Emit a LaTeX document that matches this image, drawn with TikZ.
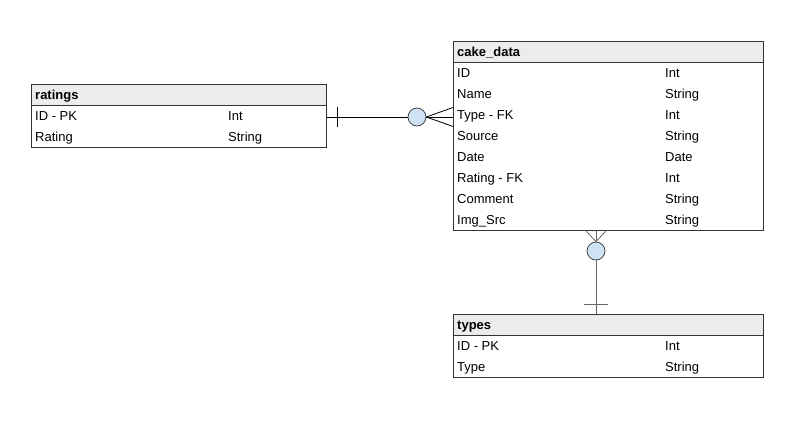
\documentclass[tikz,border=0pt]{standalone}
\usepackage{fontspec}
\setmainfont{Liberation Sans}
\definecolor{hdr}{HTML}{ECECEC}
\definecolor{bub}{HTML}{CFE2F3}
\definecolor{bord}{HTML}{333333}
\definecolor{lgray}{HTML}{666666}
\begin{document}
\begin{tikzpicture}[x=1pt,y=-1pt,
  font=\fontsize{13}{15}\selectfont,
  hdrbox/.style={draw=bord,fill=hdr,line width=0.8pt,anchor=north west,minimum height=21pt,inner sep=0pt},
  bodybox/.style={draw=bord,fill=white,line width=0.8pt,anchor=north west,inner sep=0pt},
  txt/.style={anchor=base west,inner sep=0pt},
  htxt/.style={anchor=base west,inner sep=0pt,font=\fontsize{13}{15}\selectfont\bfseries},
  bubble/.style={circle,draw=bord,fill=bub,minimum size=18pt,inner sep=0pt,line width=0.7pt},
  conn/.style={line width=0.8pt,draw=black},
  connv/.style={line width=0.8pt,draw=lgray}]
\useasboundingbox (0,0) rectangle (796,421);

% ratings
\node[hdrbox,minimum width=295pt] (rh) at (31,84) {};
\node[bodybox,minimum width=295pt,minimum height=42pt] (rb) at (31,105) {};
\node[htxt] (rt) at (35,99) {ratings};
\node[txt] (r1a) at (35,120) {ID - PK};
\node[txt] (r1b) at (228,120) {Int};
\node[txt] (r2a) at (35,141) {Rating};
\node[txt] (r2b) at (228,141) {String};

% cake_data
\node[hdrbox,minimum width=310pt] (ch) at (453,41) {};
\node[bodybox,minimum width=310pt,minimum height=168pt] (cb) at (453,62) {};
\node[htxt] (ct) at (457,56) {cake\_data};
\foreach \n/\a/\b [count=\i from 0] in {c1/ID/Int,c2/Name/String,c3/Type - FK/Int,c4/Source/String,c5/Date/Date,c6/Rating - FK/Int,c7/Comment/String,c8/Img\_Src/String}{
  \node[txt] (\n a) at (457,77+21*\i) {\a};
  \node[txt] (\n b) at (665,77+21*\i) {\b};
}

% types
\node[hdrbox,minimum width=310pt] (th) at (453,314) {};
\node[bodybox,minimum width=310pt,minimum height=42pt] (tb) at (453,335) {};
\node[htxt] (tt) at (457,329) {types};
\node[txt] (t1a) at (457,350) {ID - PK};
\node[txt] (t1b) at (665,350) {Int};
\node[txt] (t2a) at (457,371) {Type};
\node[txt] (t2b) at (665,371) {String};

% ratings -- cake_data
\node[bubble] (b1) at (417,117) {};
\coordinate (rEnd) at (rb.north east |- b1);
\coordinate (cEnd) at (cb.north west |- b1);
\draw[conn] (rEnd) -- (b1.west);
\draw[conn] ([xshift=11pt]rEnd) ++(0,-10) -- ++(0,20);
\draw[conn] (b1.east) -- ([yshift=-9.5pt]cEnd);
\draw[conn] (b1.east) -- (cEnd);
\draw[conn] (b1.east) -- ([yshift=9.5pt]cEnd);

% cake_data -- types
\node[bubble] (b2) at (596,251) {};
\coordinate (cBot) at (cb.south west -| b2);
\coordinate (tTop) at (th.north west -| b2);
\draw[connv] (b2.south) -- (tTop);
\draw[connv] ([yshift=10pt]tTop) ++(-12,0) -- ++(24,0);
\draw[connv] (b2.north) -- ([xshift=-10pt]cBot);
\draw[connv] (b2.north) -- (cBot);
\draw[connv] (b2.north) -- ([xshift=10pt]cBot);
\end{tikzpicture}
\end{document}
